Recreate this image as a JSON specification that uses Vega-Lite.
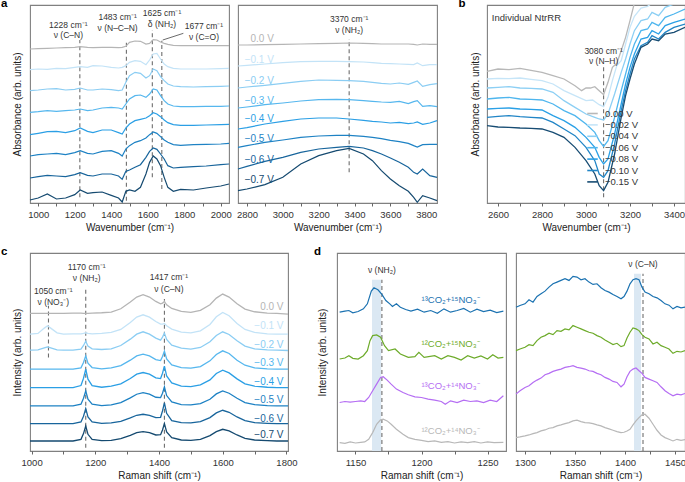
{
"$schema": "https://vega.github.io/schema/vega-lite/v6.json",
"padding": {"top": -3, "left": 0, "right": 0, "bottom": 0},
"background": "white",
"config": {
  "font": "Liberation Sans",
  "view": {"stroke": "#808080", "strokeWidth": 1.1},
  "axis": {"grid": false, "domain": false, "tickColor": "#555", "tickSize": 3, "tickWidth": 0.9, "labelFontSize": 9.5, "labelColor": "#333", "labelPadding": 3, "titleFontSize": 10, "titleFontWeight": "normal", "titleColor": "#222", "titlePadding": 4, "labelFont": "Liberation Sans", "titleFont": "Liberation Sans", "minExtent": 0, "labelOverlap": false, "labelFlush": false},
  "title": {"fontSize": 11.5, "fontWeight": "bold", "anchor": "start", "frame": "group", "offset": 0, "baseline": "alphabetic", "color": "#000", "font": "Liberation Sans"},
  "text": {"font": "Liberation Sans"}
},
"datasets": {
"aL": [
{"s":"0.0 V","x":955,"y":462},{"s":"0.0 V","x":1000,"y":463},{"s":"0.0 V","x":1050,"y":464},{"s":"0.0 V","x":1100,"y":465},{"s":"0.0 V","x":1150,"y":466},{"s":"0.0 V","x":1200,"y":467},{"s":"0.0 V","x":1230,"y":469},{"s":"0.0 V","x":1270,"y":467},{"s":"0.0 V","x":1300,"y":466},{"s":"0.0 V","x":1350,"y":467},{"s":"0.0 V","x":1400,"y":467},{"s":"0.0 V","x":1440,"y":466},{"s":"0.0 V","x":1460,"y":467},{"s":"0.0 V","x":1480,"y":470},{"s":"0.0 V","x":1500,"y":482},{"s":"0.0 V","x":1530,"y":486},{"s":"0.0 V","x":1560,"y":485},{"s":"0.0 V","x":1590,"y":477},{"s":"0.0 V","x":1610,"y":479},{"s":"0.0 V","x":1630,"y":490},{"s":"0.0 V","x":1650,"y":489},{"s":"0.0 V","x":1670,"y":483},{"s":"0.0 V","x":1690,"y":479},{"s":"0.0 V","x":1710,"y":476},{"s":"0.0 V","x":1740,"y":473},{"s":"0.0 V","x":1780,"y":472},{"s":"0.0 V","x":1850,"y":472},{"s":"0.0 V","x":1920,"y":472},{"s":"0.0 V","x":2000,"y":472},{"s":"0.0 V","x":2045,"y":472},
{"s":"−0.1 V","x":955,"y":400},{"s":"−0.1 V","x":1000,"y":402},{"s":"−0.1 V","x":1050,"y":401},{"s":"−0.1 V","x":1100,"y":404},{"s":"−0.1 V","x":1150,"y":403},{"s":"−0.1 V","x":1200,"y":407},{"s":"−0.1 V","x":1230,"y":409},{"s":"−0.1 V","x":1270,"y":407},{"s":"−0.1 V","x":1300,"y":412},{"s":"−0.1 V","x":1350,"y":411},{"s":"−0.1 V","x":1400,"y":407},{"s":"−0.1 V","x":1440,"y":405},{"s":"−0.1 V","x":1460,"y":407},{"s":"−0.1 V","x":1480,"y":412},{"s":"−0.1 V","x":1500,"y":422},{"s":"−0.1 V","x":1530,"y":427},{"s":"−0.1 V","x":1560,"y":425},{"s":"−0.1 V","x":1590,"y":415},{"s":"−0.1 V","x":1610,"y":429},{"s":"−0.1 V","x":1630,"y":447},{"s":"−0.1 V","x":1650,"y":449},{"s":"−0.1 V","x":1670,"y":432},{"s":"−0.1 V","x":1690,"y":417},{"s":"−0.1 V","x":1710,"y":409},{"s":"−0.1 V","x":1740,"y":404},{"s":"−0.1 V","x":1780,"y":402},{"s":"−0.1 V","x":1850,"y":402},{"s":"−0.1 V","x":1920,"y":402},{"s":"−0.1 V","x":2000,"y":403},{"s":"−0.1 V","x":2045,"y":404},
{"s":"−0.2 V","x":955,"y":337},{"s":"−0.2 V","x":1000,"y":339},{"s":"−0.2 V","x":1050,"y":342},{"s":"−0.2 V","x":1100,"y":343},{"s":"−0.2 V","x":1150,"y":339},{"s":"−0.2 V","x":1200,"y":341},{"s":"−0.2 V","x":1230,"y":345},{"s":"−0.2 V","x":1270,"y":339},{"s":"−0.2 V","x":1300,"y":339},{"s":"−0.2 V","x":1350,"y":342},{"s":"−0.2 V","x":1400,"y":340},{"s":"−0.2 V","x":1440,"y":337},{"s":"−0.2 V","x":1460,"y":339},{"s":"−0.2 V","x":1480,"y":362},{"s":"−0.2 V","x":1500,"y":382},{"s":"−0.2 V","x":1530,"y":392},{"s":"−0.2 V","x":1560,"y":389},{"s":"−0.2 V","x":1590,"y":375},{"s":"−0.2 V","x":1610,"y":382},{"s":"−0.2 V","x":1630,"y":402},{"s":"−0.2 V","x":1650,"y":397},{"s":"−0.2 V","x":1670,"y":379},{"s":"−0.2 V","x":1690,"y":367},{"s":"−0.2 V","x":1710,"y":357},{"s":"−0.2 V","x":1740,"y":351},{"s":"−0.2 V","x":1780,"y":349},{"s":"−0.2 V","x":1850,"y":348},{"s":"−0.2 V","x":1920,"y":349},{"s":"−0.2 V","x":2000,"y":350},{"s":"−0.2 V","x":2045,"y":351},
{"s":"−0.3 V","x":955,"y":272},{"s":"−0.3 V","x":1000,"y":274},{"s":"−0.3 V","x":1050,"y":277},{"s":"−0.3 V","x":1100,"y":275},{"s":"−0.3 V","x":1150,"y":277},{"s":"−0.3 V","x":1200,"y":279},{"s":"−0.3 V","x":1230,"y":282},{"s":"−0.3 V","x":1270,"y":277},{"s":"−0.3 V","x":1300,"y":279},{"s":"−0.3 V","x":1350,"y":285},{"s":"−0.3 V","x":1400,"y":287},{"s":"−0.3 V","x":1440,"y":285},{"s":"−0.3 V","x":1460,"y":282},{"s":"−0.3 V","x":1480,"y":297},{"s":"−0.3 V","x":1500,"y":312},{"s":"−0.3 V","x":1530,"y":322},{"s":"−0.3 V","x":1560,"y":324},{"s":"−0.3 V","x":1590,"y":317},{"s":"−0.3 V","x":1610,"y":327},{"s":"−0.3 V","x":1630,"y":342},{"s":"−0.3 V","x":1650,"y":339},{"s":"−0.3 V","x":1670,"y":322},{"s":"−0.3 V","x":1690,"y":307},{"s":"−0.3 V","x":1710,"y":297},{"s":"−0.3 V","x":1740,"y":291},{"s":"−0.3 V","x":1780,"y":289},{"s":"−0.3 V","x":1850,"y":289},{"s":"−0.3 V","x":1920,"y":290},{"s":"−0.3 V","x":2000,"y":290},{"s":"−0.3 V","x":2045,"y":291},
{"s":"−0.4 V","x":955,"y":205},{"s":"−0.4 V","x":1000,"y":209},{"s":"−0.4 V","x":1050,"y":214},{"s":"−0.4 V","x":1100,"y":215},{"s":"−0.4 V","x":1150,"y":211},{"s":"−0.4 V","x":1200,"y":217},{"s":"−0.4 V","x":1230,"y":225},{"s":"−0.4 V","x":1270,"y":215},{"s":"−0.4 V","x":1300,"y":211},{"s":"−0.4 V","x":1350,"y":219},{"s":"−0.4 V","x":1400,"y":219},{"s":"−0.4 V","x":1440,"y":211},{"s":"−0.4 V","x":1460,"y":207},{"s":"−0.4 V","x":1480,"y":225},{"s":"−0.4 V","x":1500,"y":237},{"s":"−0.4 V","x":1530,"y":247},{"s":"−0.4 V","x":1560,"y":251},{"s":"−0.4 V","x":1590,"y":255},{"s":"−0.4 V","x":1610,"y":262},{"s":"−0.4 V","x":1630,"y":271},{"s":"−0.4 V","x":1650,"y":267},{"s":"−0.4 V","x":1670,"y":259},{"s":"−0.4 V","x":1690,"y":249},{"s":"−0.4 V","x":1710,"y":241},{"s":"−0.4 V","x":1740,"y":235},{"s":"−0.4 V","x":1780,"y":233},{"s":"−0.4 V","x":1850,"y":233},{"s":"−0.4 V","x":1920,"y":234},{"s":"−0.4 V","x":2000,"y":235},{"s":"−0.4 V","x":2045,"y":236},
{"s":"−0.5 V","x":955,"y":141},{"s":"−0.5 V","x":1000,"y":145},{"s":"−0.5 V","x":1050,"y":147},{"s":"−0.5 V","x":1100,"y":149},{"s":"−0.5 V","x":1150,"y":145},{"s":"−0.5 V","x":1200,"y":151},{"s":"−0.5 V","x":1230,"y":157},{"s":"−0.5 V","x":1270,"y":149},{"s":"−0.5 V","x":1300,"y":147},{"s":"−0.5 V","x":1350,"y":155},{"s":"−0.5 V","x":1400,"y":157},{"s":"−0.5 V","x":1440,"y":149},{"s":"−0.5 V","x":1460,"y":141},{"s":"−0.5 V","x":1480,"y":162},{"s":"−0.5 V","x":1500,"y":172},{"s":"−0.5 V","x":1530,"y":182},{"s":"−0.5 V","x":1560,"y":187},{"s":"−0.5 V","x":1590,"y":195},{"s":"−0.5 V","x":1610,"y":205},{"s":"−0.5 V","x":1630,"y":213},{"s":"−0.5 V","x":1650,"y":209},{"s":"−0.5 V","x":1670,"y":199},{"s":"−0.5 V","x":1690,"y":189},{"s":"−0.5 V","x":1710,"y":182},{"s":"−0.5 V","x":1740,"y":175},{"s":"−0.5 V","x":1780,"y":173},{"s":"−0.5 V","x":1850,"y":175},{"s":"−0.5 V","x":1920,"y":176},{"s":"−0.5 V","x":2000,"y":177},{"s":"−0.5 V","x":2045,"y":179},
{"s":"−0.6 V","x":955,"y":75},{"s":"−0.6 V","x":1000,"y":79},{"s":"−0.6 V","x":1050,"y":83},{"s":"−0.6 V","x":1100,"y":81},{"s":"−0.6 V","x":1150,"y":79},{"s":"−0.6 V","x":1200,"y":85},{"s":"−0.6 V","x":1230,"y":91},{"s":"−0.6 V","x":1270,"y":83},{"s":"−0.6 V","x":1300,"y":81},{"s":"−0.6 V","x":1350,"y":87},{"s":"−0.6 V","x":1400,"y":87},{"s":"−0.6 V","x":1440,"y":81},{"s":"−0.6 V","x":1460,"y":71},{"s":"−0.6 V","x":1480,"y":95},{"s":"−0.6 V","x":1500,"y":99},{"s":"−0.6 V","x":1530,"y":107},{"s":"−0.6 V","x":1560,"y":115},{"s":"−0.6 V","x":1590,"y":137},{"s":"−0.6 V","x":1610,"y":155},{"s":"−0.6 V","x":1630,"y":165},{"s":"−0.6 V","x":1650,"y":161},{"s":"−0.6 V","x":1670,"y":147},{"s":"−0.6 V","x":1690,"y":132},{"s":"−0.6 V","x":1710,"y":112},{"s":"−0.6 V","x":1740,"y":105},{"s":"−0.6 V","x":1780,"y":107},{"s":"−0.6 V","x":1850,"y":109},{"s":"−0.6 V","x":1920,"y":111},{"s":"−0.6 V","x":2000,"y":115},{"s":"−0.6 V","x":2045,"y":117},
{"s":"−0.7 V","x":955,"y":9},{"s":"−0.7 V","x":1000,"y":15},{"s":"−0.7 V","x":1050,"y":27},{"s":"−0.7 V","x":1100,"y":12},{"s":"−0.7 V","x":1150,"y":15},{"s":"−0.7 V","x":1200,"y":25},{"s":"−0.7 V","x":1230,"y":39},{"s":"−0.7 V","x":1270,"y":29},{"s":"−0.7 V","x":1300,"y":31},{"s":"−0.7 V","x":1350,"y":33},{"s":"−0.7 V","x":1400,"y":23},{"s":"−0.7 V","x":1440,"y":15},{"s":"−0.7 V","x":1460,"y":3},{"s":"−0.7 V","x":1480,"y":35},{"s":"−0.7 V","x":1500,"y":39},{"s":"−0.7 V","x":1530,"y":35},{"s":"−0.7 V","x":1560,"y":47},{"s":"−0.7 V","x":1590,"y":87},{"s":"−0.7 V","x":1610,"y":122},{"s":"−0.7 V","x":1630,"y":141},{"s":"−0.7 V","x":1650,"y":132},{"s":"−0.7 V","x":1670,"y":112},{"s":"−0.7 V","x":1690,"y":77},{"s":"−0.7 V","x":1710,"y":47},{"s":"−0.7 V","x":1740,"y":35},{"s":"−0.7 V","x":1780,"y":41},{"s":"−0.7 V","x":1850,"y":39},{"s":"−0.7 V","x":1920,"y":45},{"s":"−0.7 V","x":2000,"y":51},{"s":"−0.7 V","x":2045,"y":57}
],
"aLt": [
{"x":1165,"y":535,"t":"1228 cm⁻¹"},{"x":1165,"y":504,"t":"ν (C–N)"},
{"x":1435,"y":557,"t":"1483 cm⁻¹"},{"x":1435,"y":525,"t":"ν (N–C–N)"},
{"x":1678,"y":571,"t":"1625 cm⁻¹"},{"x":1678,"y":537,"t":"δ (NH₂)"},
{"x":1908,"y":532,"t":"1677 cm⁻¹"},{"x":1908,"y":499,"t":"ν (C=O)"}
],
"aLr": [
{"x":1228,"y":17,"y2":489},{"x":1483,"y":7,"y2":485},{"x":1625,"y":77,"y2":519},{"x":1677,"y":42,"y2":487}
],
"aLlead": [{"x":1682,"y":489},{"x":1795,"y":509}],
"aR": [
{"s":"0.0 V","x":2750,"y":474},{"s":"0.0 V","x":2800,"y":474},{"s":"0.0 V","x":2900,"y":475},{"s":"0.0 V","x":3000,"y":476},{"s":"0.0 V","x":3100,"y":477},{"s":"0.0 V","x":3200,"y":478},{"s":"0.0 V","x":3300,"y":479},{"s":"0.0 V","x":3370,"y":480},{"s":"0.0 V","x":3450,"y":479},{"s":"0.0 V","x":3500,"y":478},{"s":"0.0 V","x":3550,"y":477},{"s":"0.0 V","x":3600,"y":477},{"s":"0.0 V","x":3650,"y":477},{"s":"0.0 V","x":3700,"y":477},{"s":"0.0 V","x":3730,"y":476},{"s":"0.0 V","x":3750,"y":474},{"s":"0.0 V","x":3780,"y":477},{"s":"0.0 V","x":3820,"y":476},{"s":"0.0 V","x":3860,"y":476},
{"s":"−0.1 V","x":2750,"y":411},{"s":"−0.1 V","x":2800,"y":413},{"s":"−0.1 V","x":2900,"y":417},{"s":"−0.1 V","x":3000,"y":421},{"s":"−0.1 V","x":3100,"y":424},{"s":"−0.1 V","x":3200,"y":425},{"s":"−0.1 V","x":3300,"y":425},{"s":"−0.1 V","x":3370,"y":424},{"s":"−0.1 V","x":3450,"y":423},{"s":"−0.1 V","x":3500,"y":421},{"s":"−0.1 V","x":3550,"y":419},{"s":"−0.1 V","x":3600,"y":418},{"s":"−0.1 V","x":3650,"y":417},{"s":"−0.1 V","x":3700,"y":416},{"s":"−0.1 V","x":3730,"y":415},{"s":"−0.1 V","x":3750,"y":420},{"s":"−0.1 V","x":3780,"y":412},{"s":"−0.1 V","x":3820,"y":415},{"s":"−0.1 V","x":3860,"y":415},
{"s":"−0.2 V","x":2750,"y":345},{"s":"−0.2 V","x":2800,"y":348},{"s":"−0.2 V","x":2900,"y":353},{"s":"−0.2 V","x":3000,"y":359},{"s":"−0.2 V","x":3100,"y":365},{"s":"−0.2 V","x":3200,"y":369},{"s":"−0.2 V","x":3300,"y":368},{"s":"−0.2 V","x":3370,"y":367},{"s":"−0.2 V","x":3450,"y":365},{"s":"−0.2 V","x":3500,"y":362},{"s":"−0.2 V","x":3550,"y":359},{"s":"−0.2 V","x":3600,"y":357},{"s":"−0.2 V","x":3650,"y":360},{"s":"−0.2 V","x":3700,"y":356},{"s":"−0.2 V","x":3730,"y":362},{"s":"−0.2 V","x":3750,"y":366},{"s":"−0.2 V","x":3780,"y":350},{"s":"−0.2 V","x":3820,"y":355},{"s":"−0.2 V","x":3860,"y":358},
{"s":"−0.3 V","x":2750,"y":285},{"s":"−0.3 V","x":2800,"y":288},{"s":"−0.3 V","x":2900,"y":295},{"s":"−0.3 V","x":3000,"y":300},{"s":"−0.3 V","x":3100,"y":306},{"s":"−0.3 V","x":3200,"y":310},{"s":"−0.3 V","x":3300,"y":311},{"s":"−0.3 V","x":3370,"y":310},{"s":"−0.3 V","x":3450,"y":307},{"s":"−0.3 V","x":3500,"y":305},{"s":"−0.3 V","x":3550,"y":303},{"s":"−0.3 V","x":3600,"y":302},{"s":"−0.3 V","x":3650,"y":305},{"s":"−0.3 V","x":3700,"y":298},{"s":"−0.3 V","x":3730,"y":304},{"s":"−0.3 V","x":3750,"y":307},{"s":"−0.3 V","x":3780,"y":290},{"s":"−0.3 V","x":3820,"y":292},{"s":"−0.3 V","x":3860,"y":289},
{"s":"−0.4 V","x":2750,"y":222},{"s":"−0.4 V","x":2800,"y":226},{"s":"−0.4 V","x":2900,"y":237},{"s":"−0.4 V","x":3000,"y":245},{"s":"−0.4 V","x":3100,"y":252},{"s":"−0.4 V","x":3200,"y":255},{"s":"−0.4 V","x":3300,"y":255},{"s":"−0.4 V","x":3370,"y":252},{"s":"−0.4 V","x":3450,"y":248},{"s":"−0.4 V","x":3500,"y":245},{"s":"−0.4 V","x":3550,"y":243},{"s":"−0.4 V","x":3600,"y":240},{"s":"−0.4 V","x":3650,"y":242},{"s":"−0.4 V","x":3700,"y":238},{"s":"−0.4 V","x":3730,"y":240},{"s":"−0.4 V","x":3750,"y":243},{"s":"−0.4 V","x":3780,"y":236},{"s":"−0.4 V","x":3820,"y":240},{"s":"−0.4 V","x":3860,"y":247},
{"s":"−0.5 V","x":2750,"y":167},{"s":"−0.5 V","x":2800,"y":172},{"s":"−0.5 V","x":2900,"y":182},{"s":"−0.5 V","x":3000,"y":189},{"s":"−0.5 V","x":3100,"y":197},{"s":"−0.5 V","x":3200,"y":201},{"s":"−0.5 V","x":3300,"y":203},{"s":"−0.5 V","x":3370,"y":203},{"s":"−0.5 V","x":3450,"y":200},{"s":"−0.5 V","x":3500,"y":197},{"s":"−0.5 V","x":3550,"y":193},{"s":"−0.5 V","x":3600,"y":188},{"s":"−0.5 V","x":3650,"y":184},{"s":"−0.5 V","x":3700,"y":179},{"s":"−0.5 V","x":3730,"y":172},{"s":"−0.5 V","x":3750,"y":168},{"s":"−0.5 V","x":3780,"y":175},{"s":"−0.5 V","x":3820,"y":176},{"s":"−0.5 V","x":3860,"y":176},
{"s":"−0.6 V","x":2750,"y":102},{"s":"−0.6 V","x":2800,"y":110},{"s":"−0.6 V","x":2900,"y":125},{"s":"−0.6 V","x":3000,"y":137},{"s":"−0.6 V","x":3100,"y":152},{"s":"−0.6 V","x":3200,"y":162},{"s":"−0.6 V","x":3300,"y":167},{"s":"−0.6 V","x":3370,"y":170},{"s":"−0.6 V","x":3450,"y":165},{"s":"−0.6 V","x":3500,"y":157},{"s":"−0.6 V","x":3550,"y":147},{"s":"−0.6 V","x":3600,"y":135},{"s":"−0.6 V","x":3650,"y":122},{"s":"−0.6 V","x":3700,"y":107},{"s":"−0.6 V","x":3730,"y":92},{"s":"−0.6 V","x":3750,"y":87},{"s":"−0.6 V","x":3780,"y":102},{"s":"−0.6 V","x":3820,"y":82},{"s":"−0.6 V","x":3860,"y":77},
{"s":"−0.7 V","x":2750,"y":37},{"s":"−0.7 V","x":2800,"y":42},{"s":"−0.7 V","x":2900,"y":55},{"s":"−0.7 V","x":3000,"y":77},{"s":"−0.7 V","x":3100,"y":117},{"s":"−0.7 V","x":3200,"y":142},{"s":"−0.7 V","x":3300,"y":157},{"s":"−0.7 V","x":3370,"y":164},{"s":"−0.7 V","x":3450,"y":147},{"s":"−0.7 V","x":3500,"y":127},{"s":"−0.7 V","x":3550,"y":97},{"s":"−0.7 V","x":3600,"y":72},{"s":"−0.7 V","x":3650,"y":52},{"s":"−0.7 V","x":3700,"y":35},{"s":"−0.7 V","x":3730,"y":17},{"s":"−0.7 V","x":3750,"y":2},{"s":"−0.7 V","x":3780,"y":22},{"s":"−0.7 V","x":3820,"y":15},{"s":"−0.7 V","x":3860,"y":7}
],
"aRl": [
{"s":"0.0 V","x":2950,"y":492},{"s":"−0.1 V","x":2950,"y":429},{"s":"−0.2 V","x":2950,"y":367},{"s":"−0.3 V","x":2950,"y":307},{"s":"−0.4 V","x":2950,"y":252},{"s":"−0.5 V","x":2950,"y":192},{"s":"−0.6 V","x":2950,"y":129},{"s":"−0.7 V","x":2950,"y":70}
],
"aRt": [{"x":3370,"y":552,"t":"3370 cm⁻¹"},{"x":3370,"y":519,"t":"ν (NH₂)"}],
"aRr": [{"x":3370,"y":92,"y2":492}],
"b": [
{"s":"0.00 V","x":2550,"y":395},{"s":"0.00 V","x":2600,"y":402},{"s":"0.00 V","x":2650,"y":400},{"s":"0.00 V","x":2700,"y":404},{"s":"0.00 V","x":2750,"y":398},{"s":"0.00 V","x":2800,"y":392},{"s":"0.00 V","x":2850,"y":382},{"s":"0.00 V","x":2900,"y":372},{"s":"0.00 V","x":2950,"y":352},{"s":"0.00 V","x":2980,"y":337},{"s":"0.00 V","x":3000,"y":345},{"s":"0.00 V","x":3020,"y":345},{"s":"0.00 V","x":3040,"y":349},{"s":"0.00 V","x":3060,"y":337},{"s":"0.00 V","x":3080,"y":325},{"s":"0.00 V","x":3100,"y":362},{"s":"0.00 V","x":3120,"y":407},{"s":"0.00 V","x":3140,"y":419},{"s":"0.00 V","x":3160,"y":457},{"s":"0.00 V","x":3180,"y":497},{"s":"0.00 V","x":3200,"y":547},{"s":"0.00 V","x":3220,"y":600},{"s":"0.00 V","x":3250,"y":640},
{"s":"−0.02 V","x":2550,"y":372},{"s":"−0.02 V","x":2600,"y":374},{"s":"−0.02 V","x":2650,"y":373},{"s":"−0.02 V","x":2700,"y":375},{"s":"−0.02 V","x":2750,"y":371},{"s":"−0.02 V","x":2800,"y":367},{"s":"−0.02 V","x":2850,"y":357},{"s":"−0.02 V","x":2900,"y":337},{"s":"−0.02 V","x":2950,"y":322},{"s":"−0.02 V","x":3000,"y":307},{"s":"−0.02 V","x":3030,"y":309},{"s":"−0.02 V","x":3060,"y":295},{"s":"−0.02 V","x":3080,"y":289},{"s":"−0.02 V","x":3100,"y":317},{"s":"−0.02 V","x":3120,"y":367},{"s":"−0.02 V","x":3140,"y":412},{"s":"−0.02 V","x":3160,"y":427},{"s":"−0.02 V","x":3180,"y":477},{"s":"−0.02 V","x":3200,"y":527},{"s":"−0.02 V","x":3220,"y":560},{"s":"−0.02 V","x":3250,"y":585},{"s":"−0.02 V","x":3280,"y":590},{"s":"−0.02 V","x":3300,"y":600},{"s":"−0.02 V","x":3330,"y":612},
{"s":"−0.04 V","x":2550,"y":345},{"s":"−0.04 V","x":2600,"y":347},{"s":"−0.04 V","x":2650,"y":349},{"s":"−0.04 V","x":2700,"y":345},{"s":"−0.04 V","x":2750,"y":344},{"s":"−0.04 V","x":2800,"y":342},{"s":"−0.04 V","x":2850,"y":332},{"s":"−0.04 V","x":2900,"y":307},{"s":"−0.04 V","x":2950,"y":287},{"s":"−0.04 V","x":3000,"y":267},{"s":"−0.04 V","x":3040,"y":257},{"s":"−0.04 V","x":3060,"y":252},{"s":"−0.04 V","x":3080,"y":249},{"s":"−0.04 V","x":3100,"y":267},{"s":"−0.04 V","x":3130,"y":327},{"s":"−0.04 V","x":3160,"y":392},{"s":"−0.04 V","x":3180,"y":432},{"s":"−0.04 V","x":3200,"y":477},{"s":"−0.04 V","x":3220,"y":517},{"s":"−0.04 V","x":3250,"y":547},{"s":"−0.04 V","x":3280,"y":552},{"s":"−0.04 V","x":3300,"y":572},{"s":"−0.04 V","x":3330,"y":562},{"s":"−0.04 V","x":3360,"y":587},{"s":"−0.04 V","x":3400,"y":597},{"s":"−0.04 V","x":3450,"y":607},
{"s":"−0.06 V","x":2550,"y":312},{"s":"−0.06 V","x":2600,"y":315},{"s":"−0.06 V","x":2650,"y":317},{"s":"−0.06 V","x":2700,"y":312},{"s":"−0.06 V","x":2750,"y":311},{"s":"−0.06 V","x":2800,"y":309},{"s":"−0.06 V","x":2850,"y":297},{"s":"−0.06 V","x":2900,"y":277},{"s":"−0.06 V","x":2950,"y":262},{"s":"−0.06 V","x":3000,"y":237},{"s":"−0.06 V","x":3040,"y":212},{"s":"−0.06 V","x":3060,"y":187},{"s":"−0.06 V","x":3080,"y":170},{"s":"−0.06 V","x":3100,"y":187},{"s":"−0.06 V","x":3130,"y":257},{"s":"−0.06 V","x":3160,"y":337},{"s":"−0.06 V","x":3180,"y":387},{"s":"−0.06 V","x":3200,"y":437},{"s":"−0.06 V","x":3220,"y":477},{"s":"−0.06 V","x":3250,"y":517},{"s":"−0.06 V","x":3280,"y":522},{"s":"−0.06 V","x":3300,"y":542},{"s":"−0.06 V","x":3330,"y":532},{"s":"−0.06 V","x":3360,"y":557},{"s":"−0.06 V","x":3400,"y":567},{"s":"−0.06 V","x":3450,"y":582},
{"s":"−0.08 V","x":2550,"y":282},{"s":"−0.08 V","x":2600,"y":284},{"s":"−0.08 V","x":2650,"y":285},{"s":"−0.08 V","x":2700,"y":282},{"s":"−0.08 V","x":2750,"y":281},{"s":"−0.08 V","x":2800,"y":279},{"s":"−0.08 V","x":2850,"y":262},{"s":"−0.08 V","x":2900,"y":247},{"s":"−0.08 V","x":2950,"y":227},{"s":"−0.08 V","x":3000,"y":197},{"s":"−0.08 V","x":3040,"y":167},{"s":"−0.08 V","x":3060,"y":137},{"s":"−0.08 V","x":3080,"y":117},{"s":"−0.08 V","x":3100,"y":132},{"s":"−0.08 V","x":3130,"y":207},{"s":"−0.08 V","x":3160,"y":297},{"s":"−0.08 V","x":3180,"y":357},{"s":"−0.08 V","x":3200,"y":407},{"s":"−0.08 V","x":3220,"y":447},{"s":"−0.08 V","x":3250,"y":492},{"s":"−0.08 V","x":3280,"y":497},{"s":"−0.08 V","x":3300,"y":517},{"s":"−0.08 V","x":3330,"y":507},{"s":"−0.08 V","x":3360,"y":532},{"s":"−0.08 V","x":3400,"y":542},{"s":"−0.08 V","x":3450,"y":552},
{"s":"−0.10 V","x":2550,"y":257},{"s":"−0.10 V","x":2600,"y":260},{"s":"−0.10 V","x":2650,"y":262},{"s":"−0.10 V","x":2700,"y":259},{"s":"−0.10 V","x":2750,"y":257},{"s":"−0.10 V","x":2800,"y":255},{"s":"−0.10 V","x":2850,"y":242},{"s":"−0.10 V","x":2900,"y":222},{"s":"−0.10 V","x":2950,"y":202},{"s":"−0.10 V","x":3000,"y":167},{"s":"−0.10 V","x":3040,"y":127},{"s":"−0.10 V","x":3060,"y":87},{"s":"−0.10 V","x":3080,"y":77},{"s":"−0.10 V","x":3100,"y":97},{"s":"−0.10 V","x":3130,"y":177},{"s":"−0.10 V","x":3160,"y":277},{"s":"−0.10 V","x":3180,"y":337},{"s":"−0.10 V","x":3200,"y":387},{"s":"−0.10 V","x":3220,"y":432},{"s":"−0.10 V","x":3250,"y":472},{"s":"−0.10 V","x":3280,"y":482},{"s":"−0.10 V","x":3300,"y":502},{"s":"−0.10 V","x":3330,"y":492},{"s":"−0.10 V","x":3360,"y":512},{"s":"−0.10 V","x":3400,"y":527},{"s":"−0.10 V","x":3450,"y":537},
{"s":"−0.15 V","x":2550,"y":232},{"s":"−0.15 V","x":2600,"y":228},{"s":"−0.15 V","x":2650,"y":227},{"s":"−0.15 V","x":2700,"y":225},{"s":"−0.15 V","x":2750,"y":224},{"s":"−0.15 V","x":2800,"y":222},{"s":"−0.15 V","x":2850,"y":212},{"s":"−0.15 V","x":2900,"y":197},{"s":"−0.15 V","x":2950,"y":167},{"s":"−0.15 V","x":3000,"y":127},{"s":"−0.15 V","x":3040,"y":87},{"s":"−0.15 V","x":3060,"y":52},{"s":"−0.15 V","x":3080,"y":37},{"s":"−0.15 V","x":3100,"y":62},{"s":"−0.15 V","x":3130,"y":147},{"s":"−0.15 V","x":3160,"y":257},{"s":"−0.15 V","x":3180,"y":322},{"s":"−0.15 V","x":3200,"y":372},{"s":"−0.15 V","x":3220,"y":417},{"s":"−0.15 V","x":3250,"y":467},{"s":"−0.15 V","x":3280,"y":477},{"s":"−0.15 V","x":3300,"y":492},{"s":"−0.15 V","x":3330,"y":487},{"s":"−0.15 V","x":3360,"y":507},{"s":"−0.15 V","x":3400,"y":512},{"s":"−0.15 V","x":3450,"y":527}
],
"bt": [{"x":3080,"y":457,"t":"3080 cm⁻¹"},{"x":3080,"y":425,"t":"ν (N–H)"}],
"bname": [{"x":2572,"y":556,"t":"Individual NtrRR"}],
"br": [{"x":3080,"y":17,"y2":407}],
"c": [
{"s":"0.0 V","x":995,"y":412},{"s":"0.0 V","x":1020,"y":412},{"s":"0.0 V","x":1040,"y":412},{"s":"0.0 V","x":1050,"y":412},{"s":"0.0 V","x":1060,"y":412},{"s":"0.0 V","x":1080,"y":412},{"s":"0.0 V","x":1100,"y":412},{"s":"0.0 V","x":1130,"y":413},{"s":"0.0 V","x":1155,"y":413},{"s":"0.0 V","x":1163,"y":412},{"s":"0.0 V","x":1170,"y":412},{"s":"0.0 V","x":1177,"y":412},{"s":"0.0 V","x":1190,"y":413},{"s":"0.0 V","x":1220,"y":414},{"s":"0.0 V","x":1250,"y":416},{"s":"0.0 V","x":1280,"y":426},{"s":"0.0 V","x":1310,"y":446},{"s":"0.0 V","x":1330,"y":461},{"s":"0.0 V","x":1350,"y":468},{"s":"0.0 V","x":1370,"y":461},{"s":"0.0 V","x":1390,"y":448},{"s":"0.0 V","x":1405,"y":441},{"s":"0.0 V","x":1411,"y":443},{"s":"0.0 V","x":1417,"y":448},{"s":"0.0 V","x":1424,"y":438},{"s":"0.0 V","x":1440,"y":427},{"s":"0.0 V","x":1470,"y":418},{"s":"0.0 V","x":1500,"y":415},{"s":"0.0 V","x":1530,"y":421},{"s":"0.0 V","x":1560,"y":438},{"s":"0.0 V","x":1580,"y":458},{"s":"0.0 V","x":1600,"y":470},{"s":"0.0 V","x":1620,"y":461},{"s":"0.0 V","x":1645,"y":441},{"s":"0.0 V","x":1670,"y":425},{"s":"0.0 V","x":1700,"y":417},{"s":"0.0 V","x":1740,"y":413},{"s":"0.0 V","x":1770,"y":412},{"s":"0.0 V","x":1805,"y":410},
{"s":"−0.1 V","x":995,"y":350},{"s":"−0.1 V","x":1020,"y":352},{"s":"−0.1 V","x":1040,"y":368},{"s":"−0.1 V","x":1050,"y":375},{"s":"−0.1 V","x":1060,"y":368},{"s":"−0.1 V","x":1080,"y":354},{"s":"−0.1 V","x":1100,"y":350},{"s":"−0.1 V","x":1130,"y":351},{"s":"−0.1 V","x":1155,"y":351},{"s":"−0.1 V","x":1163,"y":352},{"s":"−0.1 V","x":1170,"y":354},{"s":"−0.1 V","x":1177,"y":352},{"s":"−0.1 V","x":1190,"y":351},{"s":"−0.1 V","x":1220,"y":352},{"s":"−0.1 V","x":1250,"y":355},{"s":"−0.1 V","x":1280,"y":364},{"s":"−0.1 V","x":1310,"y":385},{"s":"−0.1 V","x":1330,"y":401},{"s":"−0.1 V","x":1350,"y":408},{"s":"−0.1 V","x":1370,"y":401},{"s":"−0.1 V","x":1390,"y":388},{"s":"−0.1 V","x":1405,"y":380},{"s":"−0.1 V","x":1411,"y":380},{"s":"−0.1 V","x":1417,"y":382},{"s":"−0.1 V","x":1424,"y":375},{"s":"−0.1 V","x":1440,"y":365},{"s":"−0.1 V","x":1470,"y":356},{"s":"−0.1 V","x":1500,"y":354},{"s":"−0.1 V","x":1530,"y":360},{"s":"−0.1 V","x":1560,"y":379},{"s":"−0.1 V","x":1580,"y":402},{"s":"−0.1 V","x":1600,"y":415},{"s":"−0.1 V","x":1620,"y":405},{"s":"−0.1 V","x":1645,"y":382},{"s":"−0.1 V","x":1670,"y":364},{"s":"−0.1 V","x":1700,"y":355},{"s":"−0.1 V","x":1740,"y":351},{"s":"−0.1 V","x":1770,"y":350},{"s":"−0.1 V","x":1805,"y":350},
{"s":"−0.2 V","x":995,"y":302},{"s":"−0.2 V","x":1020,"y":303},{"s":"−0.2 V","x":1040,"y":309},{"s":"−0.2 V","x":1050,"y":312},{"s":"−0.2 V","x":1060,"y":309},{"s":"−0.2 V","x":1080,"y":303},{"s":"−0.2 V","x":1100,"y":302},{"s":"−0.2 V","x":1130,"y":302},{"s":"−0.2 V","x":1155,"y":305},{"s":"−0.2 V","x":1163,"y":316},{"s":"−0.2 V","x":1170,"y":329},{"s":"−0.2 V","x":1177,"y":314},{"s":"−0.2 V","x":1190,"y":306},{"s":"−0.2 V","x":1220,"y":304},{"s":"−0.2 V","x":1250,"y":306},{"s":"−0.2 V","x":1280,"y":316},{"s":"−0.2 V","x":1310,"y":335},{"s":"−0.2 V","x":1330,"y":350},{"s":"−0.2 V","x":1350,"y":357},{"s":"−0.2 V","x":1370,"y":350},{"s":"−0.2 V","x":1390,"y":338},{"s":"−0.2 V","x":1405,"y":332},{"s":"−0.2 V","x":1411,"y":341},{"s":"−0.2 V","x":1417,"y":353},{"s":"−0.2 V","x":1424,"y":334},{"s":"−0.2 V","x":1440,"y":317},{"s":"−0.2 V","x":1470,"y":308},{"s":"−0.2 V","x":1500,"y":305},{"s":"−0.2 V","x":1530,"y":310},{"s":"−0.2 V","x":1560,"y":327},{"s":"−0.2 V","x":1580,"y":346},{"s":"−0.2 V","x":1600,"y":357},{"s":"−0.2 V","x":1620,"y":349},{"s":"−0.2 V","x":1645,"y":330},{"s":"−0.2 V","x":1670,"y":314},{"s":"−0.2 V","x":1700,"y":306},{"s":"−0.2 V","x":1740,"y":303},{"s":"−0.2 V","x":1770,"y":302},{"s":"−0.2 V","x":1805,"y":301},
{"s":"−0.3 V","x":995,"y":245},{"s":"−0.3 V","x":1020,"y":245},{"s":"−0.3 V","x":1040,"y":245},{"s":"−0.3 V","x":1050,"y":245},{"s":"−0.3 V","x":1060,"y":245},{"s":"−0.3 V","x":1080,"y":245},{"s":"−0.3 V","x":1100,"y":245},{"s":"−0.3 V","x":1130,"y":245},{"s":"−0.3 V","x":1155,"y":249},{"s":"−0.3 V","x":1163,"y":265},{"s":"−0.3 V","x":1170,"y":285},{"s":"−0.3 V","x":1177,"y":263},{"s":"−0.3 V","x":1190,"y":250},{"s":"−0.3 V","x":1220,"y":246},{"s":"−0.3 V","x":1250,"y":249},{"s":"−0.3 V","x":1280,"y":256},{"s":"−0.3 V","x":1310,"y":272},{"s":"−0.3 V","x":1330,"y":285},{"s":"−0.3 V","x":1350,"y":290},{"s":"−0.3 V","x":1370,"y":285},{"s":"−0.3 V","x":1390,"y":274},{"s":"−0.3 V","x":1405,"y":271},{"s":"−0.3 V","x":1411,"y":283},{"s":"−0.3 V","x":1417,"y":299},{"s":"−0.3 V","x":1424,"y":276},{"s":"−0.3 V","x":1440,"y":258},{"s":"−0.3 V","x":1470,"y":250},{"s":"−0.3 V","x":1500,"y":248},{"s":"−0.3 V","x":1530,"y":253},{"s":"−0.3 V","x":1560,"y":270},{"s":"−0.3 V","x":1580,"y":289},{"s":"−0.3 V","x":1600,"y":300},{"s":"−0.3 V","x":1620,"y":292},{"s":"−0.3 V","x":1645,"y":272},{"s":"−0.3 V","x":1670,"y":257},{"s":"−0.3 V","x":1700,"y":249},{"s":"−0.3 V","x":1740,"y":246},{"s":"−0.3 V","x":1770,"y":245},{"s":"−0.3 V","x":1805,"y":245},
{"s":"−0.4 V","x":995,"y":190},{"s":"−0.4 V","x":1020,"y":190},{"s":"−0.4 V","x":1040,"y":190},{"s":"−0.4 V","x":1050,"y":190},{"s":"−0.4 V","x":1060,"y":190},{"s":"−0.4 V","x":1080,"y":190},{"s":"−0.4 V","x":1100,"y":190},{"s":"−0.4 V","x":1130,"y":190},{"s":"−0.4 V","x":1155,"y":196},{"s":"−0.4 V","x":1163,"y":218},{"s":"−0.4 V","x":1170,"y":245},{"s":"−0.4 V","x":1177,"y":215},{"s":"−0.4 V","x":1190,"y":196},{"s":"−0.4 V","x":1220,"y":191},{"s":"−0.4 V","x":1250,"y":194},{"s":"−0.4 V","x":1280,"y":201},{"s":"−0.4 V","x":1310,"y":217},{"s":"−0.4 V","x":1330,"y":230},{"s":"−0.4 V","x":1350,"y":235},{"s":"−0.4 V","x":1370,"y":230},{"s":"−0.4 V","x":1390,"y":219},{"s":"−0.4 V","x":1405,"y":217},{"s":"−0.4 V","x":1411,"y":233},{"s":"−0.4 V","x":1417,"y":254},{"s":"−0.4 V","x":1424,"y":225},{"s":"−0.4 V","x":1440,"y":204},{"s":"−0.4 V","x":1470,"y":194},{"s":"−0.4 V","x":1500,"y":193},{"s":"−0.4 V","x":1530,"y":198},{"s":"−0.4 V","x":1560,"y":213},{"s":"−0.4 V","x":1580,"y":232},{"s":"−0.4 V","x":1600,"y":242},{"s":"−0.4 V","x":1620,"y":234},{"s":"−0.4 V","x":1645,"y":216},{"s":"−0.4 V","x":1670,"y":201},{"s":"−0.4 V","x":1700,"y":194},{"s":"−0.4 V","x":1740,"y":191},{"s":"−0.4 V","x":1770,"y":190},{"s":"−0.4 V","x":1805,"y":190},
{"s":"−0.5 V","x":995,"y":135},{"s":"−0.5 V","x":1020,"y":135},{"s":"−0.5 V","x":1040,"y":135},{"s":"−0.5 V","x":1050,"y":135},{"s":"−0.5 V","x":1060,"y":135},{"s":"−0.5 V","x":1080,"y":135},{"s":"−0.5 V","x":1100,"y":135},{"s":"−0.5 V","x":1130,"y":135},{"s":"−0.5 V","x":1155,"y":140},{"s":"−0.5 V","x":1163,"y":158},{"s":"−0.5 V","x":1170,"y":180},{"s":"−0.5 V","x":1177,"y":155},{"s":"−0.5 V","x":1190,"y":140},{"s":"−0.5 V","x":1220,"y":136},{"s":"−0.5 V","x":1250,"y":138},{"s":"−0.5 V","x":1280,"y":145},{"s":"−0.5 V","x":1310,"y":159},{"s":"−0.5 V","x":1330,"y":170},{"s":"−0.5 V","x":1350,"y":175},{"s":"−0.5 V","x":1370,"y":170},{"s":"−0.5 V","x":1390,"y":161},{"s":"−0.5 V","x":1405,"y":160},{"s":"−0.5 V","x":1411,"y":173},{"s":"−0.5 V","x":1417,"y":192},{"s":"−0.5 V","x":1424,"y":166},{"s":"−0.5 V","x":1440,"y":147},{"s":"−0.5 V","x":1470,"y":139},{"s":"−0.5 V","x":1500,"y":138},{"s":"−0.5 V","x":1530,"y":142},{"s":"−0.5 V","x":1560,"y":155},{"s":"−0.5 V","x":1580,"y":171},{"s":"−0.5 V","x":1600,"y":180},{"s":"−0.5 V","x":1620,"y":173},{"s":"−0.5 V","x":1645,"y":158},{"s":"−0.5 V","x":1670,"y":145},{"s":"−0.5 V","x":1700,"y":139},{"s":"−0.5 V","x":1740,"y":136},{"s":"−0.5 V","x":1770,"y":135},{"s":"−0.5 V","x":1805,"y":135},
{"s":"−0.6 V","x":995,"y":82},{"s":"−0.6 V","x":1020,"y":82},{"s":"−0.6 V","x":1040,"y":82},{"s":"−0.6 V","x":1050,"y":82},{"s":"−0.6 V","x":1060,"y":82},{"s":"−0.6 V","x":1080,"y":82},{"s":"−0.6 V","x":1100,"y":82},{"s":"−0.6 V","x":1130,"y":82},{"s":"−0.6 V","x":1155,"y":87},{"s":"−0.6 V","x":1163,"y":104},{"s":"−0.6 V","x":1170,"y":127},{"s":"−0.6 V","x":1177,"y":102},{"s":"−0.6 V","x":1190,"y":87},{"s":"−0.6 V","x":1220,"y":83},{"s":"−0.6 V","x":1250,"y":84},{"s":"−0.6 V","x":1280,"y":89},{"s":"−0.6 V","x":1310,"y":99},{"s":"−0.6 V","x":1330,"y":107},{"s":"−0.6 V","x":1350,"y":110},{"s":"−0.6 V","x":1370,"y":107},{"s":"−0.6 V","x":1390,"y":100},{"s":"−0.6 V","x":1405,"y":101},{"s":"−0.6 V","x":1411,"y":120},{"s":"−0.6 V","x":1417,"y":144},{"s":"−0.6 V","x":1424,"y":113},{"s":"−0.6 V","x":1440,"y":91},{"s":"−0.6 V","x":1470,"y":85},{"s":"−0.6 V","x":1500,"y":84},{"s":"−0.6 V","x":1530,"y":88},{"s":"−0.6 V","x":1560,"y":100},{"s":"−0.6 V","x":1580,"y":114},{"s":"−0.6 V","x":1600,"y":122},{"s":"−0.6 V","x":1620,"y":116},{"s":"−0.6 V","x":1645,"y":102},{"s":"−0.6 V","x":1670,"y":91},{"s":"−0.6 V","x":1700,"y":85},{"s":"−0.6 V","x":1740,"y":83},{"s":"−0.6 V","x":1770,"y":82},{"s":"−0.6 V","x":1805,"y":82},
{"s":"−0.7 V","x":995,"y":30},{"s":"−0.7 V","x":1020,"y":30},{"s":"−0.7 V","x":1040,"y":30},{"s":"−0.7 V","x":1050,"y":30},{"s":"−0.7 V","x":1060,"y":30},{"s":"−0.7 V","x":1080,"y":30},{"s":"−0.7 V","x":1100,"y":30},{"s":"−0.7 V","x":1130,"y":30},{"s":"−0.7 V","x":1155,"y":35},{"s":"−0.7 V","x":1163,"y":52},{"s":"−0.7 V","x":1170,"y":75},{"s":"−0.7 V","x":1177,"y":50},{"s":"−0.7 V","x":1190,"y":35},{"s":"−0.7 V","x":1220,"y":31},{"s":"−0.7 V","x":1250,"y":32},{"s":"−0.7 V","x":1280,"y":37},{"s":"−0.7 V","x":1310,"y":47},{"s":"−0.7 V","x":1330,"y":55},{"s":"−0.7 V","x":1350,"y":58},{"s":"−0.7 V","x":1370,"y":55},{"s":"−0.7 V","x":1390,"y":48},{"s":"−0.7 V","x":1405,"y":49},{"s":"−0.7 V","x":1411,"y":63},{"s":"−0.7 V","x":1417,"y":82},{"s":"−0.7 V","x":1424,"y":57},{"s":"−0.7 V","x":1440,"y":40},{"s":"−0.7 V","x":1470,"y":33},{"s":"−0.7 V","x":1500,"y":32},{"s":"−0.7 V","x":1530,"y":35},{"s":"−0.7 V","x":1560,"y":46},{"s":"−0.7 V","x":1580,"y":58},{"s":"−0.7 V","x":1600,"y":65},{"s":"−0.7 V","x":1620,"y":60},{"s":"−0.7 V","x":1645,"y":48},{"s":"−0.7 V","x":1670,"y":38},{"s":"−0.7 V","x":1700,"y":33},{"s":"−0.7 V","x":1740,"y":31},{"s":"−0.7 V","x":1770,"y":30},{"s":"−0.7 V","x":1805,"y":30}
],
"cl": [
{"s":"0.0 V","x":1791,"y":432},{"s":"−0.1 V","x":1791,"y":375},{"s":"−0.2 V","x":1791,"y":318},{"s":"−0.3 V","x":1791,"y":263},{"s":"−0.4 V","x":1791,"y":207},{"s":"−0.5 V","x":1791,"y":152},{"s":"−0.6 V","x":1791,"y":97},{"s":"−0.7 V","x":1791,"y":47}
],
"ct": [
{"x":1068,"y":480,"t":"1050 cm⁻¹"},{"x":1068,"y":447,"t":"ν (NO₃⁻)"},
{"x":1173,"y":552,"t":"1170 cm⁻¹"},{"x":1173,"y":518,"t":"ν (NH₂)"},
{"x":1431,"y":522,"t":"1417 cm⁻¹"},{"x":1431,"y":485,"t":"ν (C–N)"}
],
"cr": [{"x":1053,"y":280,"y2":435},{"x":1170,"y":10,"y2":490},{"x":1417,"y":10,"y2":455}],
"dL": [
{"s":"¹³CO₂+¹⁵NO₃⁻","x":1138,"y":415},{"s":"¹³CO₂+¹⁵NO₃⁻","x":1142,"y":418},{"s":"¹³CO₂+¹⁵NO₃⁻","x":1145,"y":420},{"s":"¹³CO₂+¹⁵NO₃⁻","x":1148,"y":413},{"s":"¹³CO₂+¹⁵NO₃⁻","x":1152,"y":417},{"s":"¹³CO₂+¹⁵NO₃⁻","x":1156,"y":425},{"s":"¹³CO₂+¹⁵NO₃⁻","x":1159,"y":440},{"s":"¹³CO₂+¹⁵NO₃⁻","x":1162,"y":478},{"s":"¹³CO₂+¹⁵NO₃⁻","x":1164,"y":488},{"s":"¹³CO₂+¹⁵NO₃⁻","x":1167,"y":482},{"s":"¹³CO₂+¹⁵NO₃⁻","x":1170,"y":468},{"s":"¹³CO₂+¹⁵NO₃⁻","x":1173,"y":450},{"s":"¹³CO₂+¹⁵NO₃⁻","x":1176,"y":440},{"s":"¹³CO₂+¹⁵NO₃⁻","x":1178,"y":432},{"s":"¹³CO₂+¹⁵NO₃⁻","x":1181,"y":440},{"s":"¹³CO₂+¹⁵NO₃⁻","x":1184,"y":430},{"s":"¹³CO₂+¹⁵NO₃⁻","x":1188,"y":423},{"s":"¹³CO₂+¹⁵NO₃⁻","x":1192,"y":418},{"s":"¹³CO₂+¹⁵NO₃⁻","x":1197,"y":424},{"s":"¹³CO₂+¹⁵NO₃⁻","x":1202,"y":415},{"s":"¹³CO₂+¹⁵NO₃⁻","x":1207,"y":420},{"s":"¹³CO₂+¹⁵NO₃⁻","x":1212,"y":412},{"s":"¹³CO₂+¹⁵NO₃⁻","x":1217,"y":425},{"s":"¹³CO₂+¹⁵NO₃⁻","x":1222,"y":415},{"s":"¹³CO₂+¹⁵NO₃⁻","x":1227,"y":420},{"s":"¹³CO₂+¹⁵NO₃⁻","x":1232,"y":426},{"s":"¹³CO₂+¹⁵NO₃⁻","x":1237,"y":415},{"s":"¹³CO₂+¹⁵NO₃⁻","x":1242,"y":424},{"s":"¹³CO₂+¹⁵NO₃⁻","x":1247,"y":417},{"s":"¹³CO₂+¹⁵NO₃⁻","x":1252,"y":421},{"s":"¹³CO₂+¹⁵NO₃⁻","x":1257,"y":414},{"s":"¹³CO₂+¹⁵NO₃⁻","x":1262,"y":418},
{"s":"¹²CO₂+¹⁵NO₃⁻","x":1138,"y":275},{"s":"¹²CO₂+¹⁵NO₃⁻","x":1142,"y":278},{"s":"¹²CO₂+¹⁵NO₃⁻","x":1145,"y":285},{"s":"¹²CO₂+¹⁵NO₃⁻","x":1148,"y":277},{"s":"¹²CO₂+¹⁵NO₃⁻","x":1152,"y":275},{"s":"¹²CO₂+¹⁵NO₃⁻","x":1156,"y":285},{"s":"¹²CO₂+¹⁵NO₃⁻","x":1159,"y":300},{"s":"¹²CO₂+¹⁵NO₃⁻","x":1161,"y":330},{"s":"¹²CO₂+¹⁵NO₃⁻","x":1163,"y":345},{"s":"¹²CO₂+¹⁵NO₃⁻","x":1166,"y":347},{"s":"¹²CO₂+¹⁵NO₃⁻","x":1169,"y":340},{"s":"¹²CO₂+¹⁵NO₃⁻","x":1172,"y":315},{"s":"¹²CO₂+¹⁵NO₃⁻","x":1175,"y":300},{"s":"¹²CO₂+¹⁵NO₃⁻","x":1180,"y":305},{"s":"¹²CO₂+¹⁵NO₃⁻","x":1184,"y":290},{"s":"¹²CO₂+¹⁵NO₃⁻","x":1190,"y":280},{"s":"¹²CO₂+¹⁵NO₃⁻","x":1195,"y":282},{"s":"¹²CO₂+¹⁵NO₃⁻","x":1198,"y":295},{"s":"¹²CO₂+¹⁵NO₃⁻","x":1202,"y":280},{"s":"¹²CO₂+¹⁵NO₃⁻","x":1210,"y":285},{"s":"¹²CO₂+¹⁵NO₃⁻","x":1215,"y":275},{"s":"¹²CO₂+¹⁵NO₃⁻","x":1220,"y":285},{"s":"¹²CO₂+¹⁵NO₃⁻","x":1225,"y":280},{"s":"¹²CO₂+¹⁵NO₃⁻","x":1230,"y":272},{"s":"¹²CO₂+¹⁵NO₃⁻","x":1235,"y":285},{"s":"¹²CO₂+¹⁵NO₃⁻","x":1240,"y":278},{"s":"¹²CO₂+¹⁵NO₃⁻","x":1245,"y":284},{"s":"¹²CO₂+¹⁵NO₃⁻","x":1250,"y":275},{"s":"¹²CO₂+¹⁵NO₃⁻","x":1254,"y":288},{"s":"¹²CO₂+¹⁵NO₃⁻","x":1258,"y":278},{"s":"¹²CO₂+¹⁵NO₃⁻","x":1262,"y":280},
{"s":"¹³CO₂+¹⁴NO₃⁻","x":1138,"y":145},{"s":"¹³CO₂+¹⁴NO₃⁻","x":1142,"y":148},{"s":"¹³CO₂+¹⁴NO₃⁻","x":1146,"y":146},{"s":"¹³CO₂+¹⁴NO₃⁻","x":1150,"y":148},{"s":"¹³CO₂+¹⁴NO₃⁻","x":1154,"y":150},{"s":"¹³CO₂+¹⁴NO₃⁻","x":1157,"y":148},{"s":"¹³CO₂+¹⁴NO₃⁻","x":1160,"y":160},{"s":"¹³CO₂+¹⁴NO₃⁻","x":1163,"y":180},{"s":"¹³CO₂+¹⁴NO₃⁻","x":1166,"y":200},{"s":"¹³CO₂+¹⁴NO₃⁻","x":1169,"y":220},{"s":"¹³CO₂+¹⁴NO₃⁻","x":1171,"y":222},{"s":"¹³CO₂+¹⁴NO₃⁻","x":1174,"y":212},{"s":"¹³CO₂+¹⁴NO₃⁻","x":1177,"y":200},{"s":"¹³CO₂+¹⁴NO₃⁻","x":1181,"y":185},{"s":"¹³CO₂+¹⁴NO₃⁻","x":1186,"y":175},{"s":"¹³CO₂+¹⁴NO₃⁻","x":1190,"y":168},{"s":"¹³CO₂+¹⁴NO₃⁻","x":1195,"y":162},{"s":"¹³CO₂+¹⁴NO₃⁻","x":1200,"y":160},{"s":"¹³CO₂+¹⁴NO₃⁻","x":1205,"y":155},{"s":"¹³CO₂+¹⁴NO₃⁻","x":1210,"y":152},{"s":"¹³CO₂+¹⁴NO₃⁻","x":1215,"y":148},{"s":"¹³CO₂+¹⁴NO₃⁻","x":1218,"y":140},{"s":"¹³CO₂+¹⁴NO₃⁻","x":1222,"y":150},{"s":"¹³CO₂+¹⁴NO₃⁻","x":1227,"y":145},{"s":"¹³CO₂+¹⁴NO₃⁻","x":1232,"y":152},{"s":"¹³CO₂+¹⁴NO₃⁻","x":1237,"y":148},{"s":"¹³CO₂+¹⁴NO₃⁻","x":1242,"y":150},{"s":"¹³CO₂+¹⁴NO₃⁻","x":1247,"y":145},{"s":"¹³CO₂+¹⁴NO₃⁻","x":1252,"y":152},{"s":"¹³CO₂+¹⁴NO₃⁻","x":1257,"y":148},{"s":"¹³CO₂+¹⁴NO₃⁻","x":1262,"y":165},
{"s":"¹²CO₂+¹⁴NO₃⁻","x":1138,"y":25},{"s":"¹²CO₂+¹⁴NO₃⁻","x":1142,"y":23},{"s":"¹²CO₂+¹⁴NO₃⁻","x":1146,"y":27},{"s":"¹²CO₂+¹⁴NO₃⁻","x":1150,"y":24},{"s":"¹²CO₂+¹⁴NO₃⁻","x":1154,"y":26},{"s":"¹²CO₂+¹⁴NO₃⁻","x":1157,"y":27},{"s":"¹²CO₂+¹⁴NO₃⁻","x":1160,"y":35},{"s":"¹²CO₂+¹⁴NO₃⁻","x":1163,"y":55},{"s":"¹²CO₂+¹⁴NO₃⁻","x":1166,"y":80},{"s":"¹²CO₂+¹⁴NO₃⁻","x":1169,"y":93},{"s":"¹²CO₂+¹⁴NO₃⁻","x":1171,"y":95},{"s":"¹²CO₂+¹⁴NO₃⁻","x":1174,"y":90},{"s":"¹²CO₂+¹⁴NO₃⁻","x":1177,"y":80},{"s":"¹²CO₂+¹⁴NO₃⁻","x":1181,"y":65},{"s":"¹²CO₂+¹⁴NO₃⁻","x":1186,"y":50},{"s":"¹²CO₂+¹⁴NO₃⁻","x":1190,"y":40},{"s":"¹²CO₂+¹⁴NO₃⁻","x":1195,"y":35},{"s":"¹²CO₂+¹⁴NO₃⁻","x":1200,"y":32},{"s":"¹²CO₂+¹⁴NO₃⁻","x":1205,"y":28},{"s":"¹²CO₂+¹⁴NO₃⁻","x":1210,"y":30},{"s":"¹²CO₂+¹⁴NO₃⁻","x":1215,"y":26},{"s":"¹²CO₂+¹⁴NO₃⁻","x":1220,"y":28},{"s":"¹²CO₂+¹⁴NO₃⁻","x":1225,"y":24},{"s":"¹²CO₂+¹⁴NO₃⁻","x":1230,"y":27},{"s":"¹²CO₂+¹⁴NO₃⁻","x":1235,"y":25},{"s":"¹²CO₂+¹⁴NO₃⁻","x":1240,"y":28},{"s":"¹²CO₂+¹⁴NO₃⁻","x":1245,"y":24},{"s":"¹²CO₂+¹⁴NO₃⁻","x":1250,"y":27},{"s":"¹²CO₂+¹⁴NO₃⁻","x":1255,"y":25},{"s":"¹²CO₂+¹⁴NO₃⁻","x":1262,"y":26}
],
"dLl": [
{"s":"¹³CO₂+¹⁵NO₃⁻","x":1222,"y":450},{"s":"¹²CO₂+¹⁵NO₃⁻","x":1222,"y":320},{"s":"¹³CO₂+¹⁴NO₃⁻","x":1222,"y":193},{"s":"¹²CO₂+¹⁴NO₃⁻","x":1222,"y":60}
],
"dLt": [{"x":1170,"y":542,"t":"ν (NH₂)"}],
"dLr": [{"x":1170,"y":0,"y2":512}],
"dLb": [{"x":1162.5,"x2":1169.5,"y":0,"y2":512}],
"dR": [
{"s":"¹³CO₂+¹⁵NO₃⁻","x":1291,"y":430},{"s":"¹³CO₂+¹⁵NO₃⁻","x":1295,"y":435},{"s":"¹³CO₂+¹⁵NO₃⁻","x":1300,"y":440},{"s":"¹³CO₂+¹⁵NO₃⁻","x":1304,"y":452},{"s":"¹³CO₂+¹⁵NO₃⁻","x":1308,"y":445},{"s":"¹³CO₂+¹⁵NO₃⁻","x":1312,"y":462},{"s":"¹³CO₂+¹⁵NO₃⁻","x":1316,"y":470},{"s":"¹³CO₂+¹⁵NO₃⁻","x":1320,"y":478},{"s":"¹³CO₂+¹⁵NO₃⁻","x":1324,"y":490},{"s":"¹³CO₂+¹⁵NO₃⁻","x":1328,"y":500},{"s":"¹³CO₂+¹⁵NO₃⁻","x":1332,"y":505},{"s":"¹³CO₂+¹⁵NO₃⁻","x":1336,"y":510},{"s":"¹³CO₂+¹⁵NO₃⁻","x":1340,"y":515},{"s":"¹³CO₂+¹⁵NO₃⁻","x":1344,"y":510},{"s":"¹³CO₂+¹⁵NO₃⁻","x":1348,"y":522},{"s":"¹³CO₂+¹⁵NO₃⁻","x":1352,"y":520},{"s":"¹³CO₂+¹⁵NO₃⁻","x":1356,"y":512},{"s":"¹³CO₂+¹⁵NO₃⁻","x":1360,"y":515},{"s":"¹³CO₂+¹⁵NO₃⁻","x":1364,"y":505},{"s":"¹³CO₂+¹⁵NO₃⁻","x":1368,"y":498},{"s":"¹³CO₂+¹⁵NO₃⁻","x":1372,"y":500},{"s":"¹³CO₂+¹⁵NO₃⁻","x":1376,"y":488},{"s":"¹³CO₂+¹⁵NO₃⁻","x":1380,"y":480},{"s":"¹³CO₂+¹⁵NO₃⁻","x":1384,"y":475},{"s":"¹³CO₂+¹⁵NO₃⁻","x":1388,"y":468},{"s":"¹³CO₂+¹⁵NO₃⁻","x":1392,"y":462},{"s":"¹³CO₂+¹⁵NO₃⁻","x":1396,"y":455},{"s":"¹³CO₂+¹⁵NO₃⁻","x":1399,"y":462},{"s":"¹³CO₂+¹⁵NO₃⁻","x":1402,"y":478},{"s":"¹³CO₂+¹⁵NO₃⁻","x":1405,"y":500},{"s":"¹³CO₂+¹⁵NO₃⁻","x":1408,"y":512},{"s":"¹³CO₂+¹⁵NO₃⁻","x":1411,"y":515},{"s":"¹³CO₂+¹⁵NO₃⁻","x":1414,"y":512},{"s":"¹³CO₂+¹⁵NO₃⁻","x":1417,"y":490},{"s":"¹³CO₂+¹⁵NO₃⁻","x":1420,"y":475},{"s":"¹³CO₂+¹⁵NO₃⁻","x":1424,"y":470},{"s":"¹³CO₂+¹⁵NO₃⁻","x":1428,"y":462},{"s":"¹³CO₂+¹⁵NO₃⁻","x":1432,"y":458},{"s":"¹³CO₂+¹⁵NO₃⁻","x":1436,"y":450},{"s":"¹³CO₂+¹⁵NO₃⁻","x":1440,"y":440},{"s":"¹³CO₂+¹⁵NO₃⁻","x":1444,"y":436},{"s":"¹³CO₂+¹⁵NO₃⁻","x":1448,"y":425},{"s":"¹³CO₂+¹⁵NO₃⁻","x":1452,"y":432},{"s":"¹³CO₂+¹⁵NO₃⁻","x":1456,"y":428},{"s":"¹³CO₂+¹⁵NO₃⁻","x":1460,"y":430},
{"s":"¹²CO₂+¹⁵NO₃⁻","x":1291,"y":300},{"s":"¹²CO₂+¹⁵NO₃⁻","x":1295,"y":305},{"s":"¹²CO₂+¹⁵NO₃⁻","x":1300,"y":310},{"s":"¹²CO₂+¹⁵NO₃⁻","x":1304,"y":318},{"s":"¹²CO₂+¹⁵NO₃⁻","x":1308,"y":315},{"s":"¹²CO₂+¹⁵NO₃⁻","x":1312,"y":330},{"s":"¹²CO₂+¹⁵NO₃⁻","x":1316,"y":340},{"s":"¹²CO₂+¹⁵NO₃⁻","x":1320,"y":345},{"s":"¹²CO₂+¹⁵NO₃⁻","x":1324,"y":352},{"s":"¹²CO₂+¹⁵NO₃⁻","x":1328,"y":348},{"s":"¹²CO₂+¹⁵NO₃⁻","x":1332,"y":360},{"s":"¹²CO₂+¹⁵NO₃⁻","x":1336,"y":358},{"s":"¹²CO₂+¹⁵NO₃⁻","x":1340,"y":365},{"s":"¹²CO₂+¹⁵NO₃⁻","x":1344,"y":362},{"s":"¹²CO₂+¹⁵NO₃⁻","x":1348,"y":375},{"s":"¹²CO₂+¹⁵NO₃⁻","x":1352,"y":370},{"s":"¹²CO₂+¹⁵NO₃⁻","x":1356,"y":365},{"s":"¹²CO₂+¹⁵NO₃⁻","x":1360,"y":360},{"s":"¹²CO₂+¹⁵NO₃⁻","x":1364,"y":355},{"s":"¹²CO₂+¹⁵NO₃⁻","x":1368,"y":352},{"s":"¹²CO₂+¹⁵NO₃⁻","x":1372,"y":345},{"s":"¹²CO₂+¹⁵NO₃⁻","x":1376,"y":340},{"s":"¹²CO₂+¹⁵NO₃⁻","x":1380,"y":332},{"s":"¹²CO₂+¹⁵NO₃⁻","x":1384,"y":325},{"s":"¹²CO₂+¹⁵NO₃⁻","x":1388,"y":318},{"s":"¹²CO₂+¹⁵NO₃⁻","x":1392,"y":322},{"s":"¹²CO₂+¹⁵NO₃⁻","x":1396,"y":312},{"s":"¹²CO₂+¹⁵NO₃⁻","x":1399,"y":315},{"s":"¹²CO₂+¹⁵NO₃⁻","x":1402,"y":338},{"s":"¹²CO₂+¹⁵NO₃⁻","x":1405,"y":355},{"s":"¹²CO₂+¹⁵NO₃⁻","x":1408,"y":368},{"s":"¹²CO₂+¹⁵NO₃⁻","x":1411,"y":365},{"s":"¹²CO₂+¹⁵NO₃⁻","x":1414,"y":360},{"s":"¹²CO₂+¹⁵NO₃⁻","x":1417,"y":348},{"s":"¹²CO₂+¹⁵NO₃⁻","x":1420,"y":340},{"s":"¹²CO₂+¹⁵NO₃⁻","x":1424,"y":335},{"s":"¹²CO₂+¹⁵NO₃⁻","x":1428,"y":320},{"s":"¹²CO₂+¹⁵NO₃⁻","x":1432,"y":325},{"s":"¹²CO₂+¹⁵NO₃⁻","x":1436,"y":315},{"s":"¹²CO₂+¹⁵NO₃⁻","x":1440,"y":310},{"s":"¹²CO₂+¹⁵NO₃⁻","x":1444,"y":305},{"s":"¹²CO₂+¹⁵NO₃⁻","x":1448,"y":292},{"s":"¹²CO₂+¹⁵NO₃⁻","x":1452,"y":298},{"s":"¹²CO₂+¹⁵NO₃⁻","x":1456,"y":296},{"s":"¹²CO₂+¹⁵NO₃⁻","x":1460,"y":300},
{"s":"¹³CO₂+¹⁴NO₃⁻","x":1291,"y":170},{"s":"¹³CO₂+¹⁴NO₃⁻","x":1295,"y":180},{"s":"¹³CO₂+¹⁴NO₃⁻","x":1300,"y":190},{"s":"¹³CO₂+¹⁴NO₃⁻","x":1304,"y":195},{"s":"¹³CO₂+¹⁴NO₃⁻","x":1308,"y":205},{"s":"¹³CO₂+¹⁴NO₃⁻","x":1312,"y":212},{"s":"¹³CO₂+¹⁴NO₃⁻","x":1316,"y":218},{"s":"¹³CO₂+¹⁴NO₃⁻","x":1320,"y":228},{"s":"¹³CO₂+¹⁴NO₃⁻","x":1324,"y":232},{"s":"¹³CO₂+¹⁴NO₃⁻","x":1328,"y":238},{"s":"¹³CO₂+¹⁴NO₃⁻","x":1332,"y":242},{"s":"¹³CO₂+¹⁴NO₃⁻","x":1336,"y":245},{"s":"¹³CO₂+¹⁴NO₃⁻","x":1340,"y":250},{"s":"¹³CO₂+¹⁴NO₃⁻","x":1344,"y":252},{"s":"¹³CO₂+¹⁴NO₃⁻","x":1348,"y":255},{"s":"¹³CO₂+¹⁴NO₃⁻","x":1352,"y":250},{"s":"¹³CO₂+¹⁴NO₃⁻","x":1356,"y":248},{"s":"¹³CO₂+¹⁴NO₃⁻","x":1360,"y":245},{"s":"¹³CO₂+¹⁴NO₃⁻","x":1364,"y":240},{"s":"¹³CO₂+¹⁴NO₃⁻","x":1368,"y":238},{"s":"¹³CO₂+¹⁴NO₃⁻","x":1372,"y":232},{"s":"¹³CO₂+¹⁴NO₃⁻","x":1376,"y":228},{"s":"¹³CO₂+¹⁴NO₃⁻","x":1380,"y":220},{"s":"¹³CO₂+¹⁴NO₃⁻","x":1384,"y":215},{"s":"¹³CO₂+¹⁴NO₃⁻","x":1388,"y":208},{"s":"¹³CO₂+¹⁴NO₃⁻","x":1392,"y":205},{"s":"¹³CO₂+¹⁴NO₃⁻","x":1396,"y":192},{"s":"¹³CO₂+¹⁴NO₃⁻","x":1399,"y":200},{"s":"¹³CO₂+¹⁴NO₃⁻","x":1402,"y":222},{"s":"¹³CO₂+¹⁴NO₃⁻","x":1405,"y":238},{"s":"¹³CO₂+¹⁴NO₃⁻","x":1408,"y":245},{"s":"¹³CO₂+¹⁴NO₃⁻","x":1411,"y":248},{"s":"¹³CO₂+¹⁴NO₃⁻","x":1414,"y":240},{"s":"¹³CO₂+¹⁴NO₃⁻","x":1417,"y":232},{"s":"¹³CO₂+¹⁴NO₃⁻","x":1420,"y":220},{"s":"¹³CO₂+¹⁴NO₃⁻","x":1424,"y":215},{"s":"¹³CO₂+¹⁴NO₃⁻","x":1428,"y":210},{"s":"¹³CO₂+¹⁴NO₃⁻","x":1432,"y":205},{"s":"¹³CO₂+¹⁴NO₃⁻","x":1436,"y":192},{"s":"¹³CO₂+¹⁴NO₃⁻","x":1440,"y":180},{"s":"¹³CO₂+¹⁴NO₃⁻","x":1444,"y":172},{"s":"¹³CO₂+¹⁴NO₃⁻","x":1448,"y":165},{"s":"¹³CO₂+¹⁴NO₃⁻","x":1452,"y":170},{"s":"¹³CO₂+¹⁴NO₃⁻","x":1456,"y":168},{"s":"¹³CO₂+¹⁴NO₃⁻","x":1460,"y":172},
{"s":"¹²CO₂+¹⁴NO₃⁻","x":1291,"y":40},{"s":"¹²CO₂+¹⁴NO₃⁻","x":1295,"y":42},{"s":"¹²CO₂+¹⁴NO₃⁻","x":1300,"y":45},{"s":"¹²CO₂+¹⁴NO₃⁻","x":1304,"y":48},{"s":"¹²CO₂+¹⁴NO₃⁻","x":1308,"y":52},{"s":"¹²CO₂+¹⁴NO₃⁻","x":1312,"y":55},{"s":"¹²CO₂+¹⁴NO₃⁻","x":1316,"y":60},{"s":"¹²CO₂+¹⁴NO₃⁻","x":1320,"y":63},{"s":"¹²CO₂+¹⁴NO₃⁻","x":1324,"y":68},{"s":"¹²CO₂+¹⁴NO₃⁻","x":1328,"y":70},{"s":"¹²CO₂+¹⁴NO₃⁻","x":1332,"y":75},{"s":"¹²CO₂+¹⁴NO₃⁻","x":1336,"y":78},{"s":"¹²CO₂+¹⁴NO₃⁻","x":1340,"y":82},{"s":"¹²CO₂+¹⁴NO₃⁻","x":1344,"y":85},{"s":"¹²CO₂+¹⁴NO₃⁻","x":1348,"y":90},{"s":"¹²CO₂+¹⁴NO₃⁻","x":1352,"y":92},{"s":"¹²CO₂+¹⁴NO₃⁻","x":1356,"y":88},{"s":"¹²CO₂+¹⁴NO₃⁻","x":1360,"y":85},{"s":"¹²CO₂+¹⁴NO₃⁻","x":1364,"y":84},{"s":"¹²CO₂+¹⁴NO₃⁻","x":1368,"y":82},{"s":"¹²CO₂+¹⁴NO₃⁻","x":1372,"y":78},{"s":"¹²CO₂+¹⁴NO₃⁻","x":1376,"y":75},{"s":"¹²CO₂+¹⁴NO₃⁻","x":1380,"y":70},{"s":"¹²CO₂+¹⁴NO₃⁻","x":1384,"y":66},{"s":"¹²CO₂+¹⁴NO₃⁻","x":1388,"y":62},{"s":"¹²CO₂+¹⁴NO₃⁻","x":1392,"y":58},{"s":"¹²CO₂+¹⁴NO₃⁻","x":1396,"y":55},{"s":"¹²CO₂+¹⁴NO₃⁻","x":1399,"y":56},{"s":"¹²CO₂+¹⁴NO₃⁻","x":1402,"y":60},{"s":"¹²CO₂+¹⁴NO₃⁻","x":1405,"y":65},{"s":"¹²CO₂+¹⁴NO₃⁻","x":1408,"y":78},{"s":"¹²CO₂+¹⁴NO₃⁻","x":1411,"y":90},{"s":"¹²CO₂+¹⁴NO₃⁻","x":1414,"y":100},{"s":"¹²CO₂+¹⁴NO₃⁻","x":1417,"y":108},{"s":"¹²CO₂+¹⁴NO₃⁻","x":1420,"y":110},{"s":"¹²CO₂+¹⁴NO₃⁻","x":1424,"y":98},{"s":"¹²CO₂+¹⁴NO₃⁻","x":1428,"y":80},{"s":"¹²CO₂+¹⁴NO₃⁻","x":1432,"y":62},{"s":"¹²CO₂+¹⁴NO₃⁻","x":1436,"y":48},{"s":"¹²CO₂+¹⁴NO₃⁻","x":1440,"y":40},{"s":"¹²CO₂+¹⁴NO₃⁻","x":1444,"y":35},{"s":"¹²CO₂+¹⁴NO₃⁻","x":1448,"y":30},{"s":"¹²CO₂+¹⁴NO₃⁻","x":1452,"y":35},{"s":"¹²CO₂+¹⁴NO₃⁻","x":1456,"y":32},{"s":"¹²CO₂+¹⁴NO₃⁻","x":1460,"y":34}
],
"dRt": [{"x":1418,"y":558,"t":"ν (C–N)"}],
"dRr": [{"x":1418,"y":0,"y2":530}],
"dRb": [{"x":1409,"x2":1416,"y":0,"y2":530}]
},
"spacing": 11,
"resolve": {"scale": {"color": "independent"}, "legend": {"color": "independent"}},
"vconcat": [
{
 "spacing": 9, "bounds": "flush",
 "resolve": {"scale": {"color": "independent"}, "legend": {"color": "independent"}},
 "hconcat": [
  {
   "width": 199, "height": 198,
   "title": {"text": "a", "dx": -29, "dy": 8.9},
   "encoding": {
     "x": {"field": "x", "type": "quantitative", "scale": {"domain": [955, 2045], "nice": false, "zero": false}, "axis": {"title": "Wavenumber (cm⁻¹)", "values": [1000,1100,1200,1300,1400,1500,1600,1700,1800,1900,2000], "format": "d", "labelExpr": "datum.value % 200 == 0 ? datum.label : ''"}},
     "y": {"field": "y", "type": "quantitative", "scale": {"domain": [0, 594], "nice": false, "zero": false}, "axis": {"title": "Absorbance (arb. units)", "labels": false, "ticks": false, "titlePadding": 8}}
   },
   "layer": [
     {"data": {"name": "aLr"}, "mark": {"type": "rule", "strokeDash": [4, 3], "color": "#6e6e6e", "strokeWidth": 1.1}, "encoding": {"y2": {"field": "y2"}}},
     {"data": {"name": "aL"}, "mark": {"type": "line", "strokeWidth": 1.2}, "encoding": {"color": {"field": "s", "type": "nominal", "legend": null, "scale": {"domain": ["0.0 V","−0.1 V","−0.2 V","−0.3 V","−0.4 V","−0.5 V","−0.6 V","−0.7 V"], "range": ["#b5b5b5","#c3e3f7","#8bcdf3","#56b7ee","#2b9fe5","#1e82c4","#18659c","#154a70"]}}}},
     {"data": {"name": "aLt"}, "mark": {"type": "text", "fontSize": 8.5, "color": "#333"}, "encoding": {"text": {"field": "t"}}},
     {"data": {"name": "aLlead"}, "mark": {"type": "line", "color": "#444", "strokeWidth": 0.8}}
   ]
  },
  {
   "width": 199, "height": 198,
   "encoding": {
     "x": {"field": "x", "type": "quantitative", "scale": {"domain": [2750, 3860], "nice": false, "zero": false}, "axis": {"title": "Wavenumber (cm⁻¹)", "values": [2800,2900,3000,3100,3200,3300,3400,3500,3600,3700,3800], "format": "d", "labelExpr": "datum.value % 200 == 0 ? datum.label : ''"}},
     "y": {"field": "y", "type": "quantitative", "scale": {"domain": [0, 594], "nice": false, "zero": false}, "axis": null}
   },
   "layer": [
     {"data": {"name": "aRr"}, "mark": {"type": "rule", "strokeDash": [4, 3], "color": "#6e6e6e", "strokeWidth": 1.1}, "encoding": {"y2": {"field": "y2"}}},
     {"data": {"name": "aR"}, "mark": {"type": "line", "strokeWidth": 1.2}, "encoding": {"color": {"field": "s", "type": "nominal", "legend": null, "scale": {"domain": ["0.0 V","−0.1 V","−0.2 V","−0.3 V","−0.4 V","−0.5 V","−0.6 V","−0.7 V"], "range": ["#b5b5b5","#c3e3f7","#8bcdf3","#56b7ee","#2b9fe5","#1e82c4","#18659c","#154a70"]}}}},
     {"data": {"name": "aRl"}, "mark": {"type": "text", "fontSize": 10, "align": "right"}, "encoding": {"text": {"field": "s"}, "color": {"field": "s", "type": "nominal", "legend": null}}},
     {"data": {"name": "aRt"}, "mark": {"type": "text", "fontSize": 8.5, "color": "#333"}, "encoding": {"text": {"field": "t"}}}
   ]
  },
  {
   "width": 31.5, "height": 198,
   "view": {"stroke": null},
   "data": {"values": []},
   "mark": "point"
  },
  {
   "width": 198, "height": 198,
   "title": {"text": "b", "dx": -28.5, "dy": 8.9},
   "encoding": {
     "x": {"field": "x", "type": "quantitative", "scale": {"domain": [2550, 3450], "nice": false, "zero": false}, "axis": {"title": "Wavenumber (cm⁻¹)", "values": [2600,2700,2800,2900,3000,3100,3200,3300,3400], "format": "d", "labelExpr": "datum.value % 200 == 0 ? datum.label : ''"}},
     "y": {"field": "y", "type": "quantitative", "scale": {"domain": [0, 594], "nice": false, "zero": false}, "axis": {"title": "Absorbance (arb. units)", "labels": false, "ticks": false, "titlePadding": 7}}
   },
   "layer": [
     {"data": {"name": "br"}, "mark": {"type": "rule", "strokeDash": [4, 3], "color": "#6e6e6e", "strokeWidth": 1.1}, "encoding": {"y2": {"field": "y2"}}},
     {"data": {"name": "b"}, "mark": {"type": "line", "strokeWidth": 1.3, "clip": true}, "encoding": {"color": {"field": "s", "type": "nominal", "scale": {"domain": ["0.00 V","−0.02 V","−0.04 V","−0.06 V","−0.08 V","−0.10 V","−0.15 V"], "range": ["#b8b8b8","#c6e5f8","#8ccff4","#4fb6ee","#2aa0e6","#2185c6","#174c73"]}, "legend": {"orient": "none", "legendX": 99, "legendY": 102, "title": null, "symbolType": "stroke", "symbolSize": 110, "symbolStrokeWidth": 1.6, "labelFontSize": 9.5, "labelColor": "#333", "rowPadding": 0.4, "labelOffset": 6, "padding": 0}}}},
     {"data": {"name": "bt"}, "mark": {"type": "text", "fontSize": 8.5, "color": "#333"}, "encoding": {"text": {"field": "t"}}},
     {"data": {"name": "bname"}, "mark": {"type": "text", "fontSize": 9.5, "color": "#333", "align": "left"}, "encoding": {"text": {"field": "t"}}}
   ]
  }
 ]
},
{
 "spacing": 10, "bounds": "flush",
 "resolve": {"scale": {"color": "independent"}, "legend": {"color": "independent"}},
 "hconcat": [
  {
   "width": 258, "height": 198,
   "title": {"text": "c", "dx": -29, "dy": 8.9},
   "encoding": {
     "x": {"field": "x", "type": "quantitative", "scale": {"domain": [995, 1805], "nice": false, "zero": false}, "axis": {"title": "Raman shift (cm⁻¹)", "values": [1000,1100,1200,1300,1400,1500,1600,1700,1800], "format": "d", "labelExpr": "datum.value % 200 == 0 ? datum.label : ''"}},
     "y": {"field": "y", "type": "quantitative", "scale": {"domain": [0, 593], "nice": false, "zero": false}, "axis": {"title": "Intensity (arb. units)", "labels": false, "ticks": false, "titlePadding": 8}}
   },
   "layer": [
     {"data": {"name": "cr"}, "mark": {"type": "rule", "strokeDash": [4, 3], "color": "#6e6e6e", "strokeWidth": 1.1}, "encoding": {"y2": {"field": "y2"}}},
     {"data": {"name": "c"}, "mark": {"type": "line", "strokeWidth": 1.3}, "encoding": {"color": {"field": "s", "type": "nominal", "legend": null, "scale": {"domain": ["0.0 V","−0.1 V","−0.2 V","−0.3 V","−0.4 V","−0.5 V","−0.6 V","−0.7 V"], "range": ["#b5b5b5","#c3e3f7","#8bcdf3","#56b7ee","#2b9fe5","#1e82c4","#18659c","#154a70"]}}}},
     {"data": {"name": "cl"}, "mark": {"type": "text", "fontSize": 10, "align": "right"}, "encoding": {"text": {"field": "s"}, "color": {"field": "s", "type": "nominal", "legend": null}}},
     {"data": {"name": "ct"}, "mark": {"type": "text", "fontSize": 8.5, "color": "#333"}, "encoding": {"text": {"field": "t"}}}
   ]
  },
  {
   "width": 29, "height": 198,
   "view": {"stroke": null},
   "data": {"values": []},
   "mark": "point"
  },
  {
   "width": 169, "height": 198,
   "title": {"text": "d", "dx": -23, "dy": 8.9},
   "encoding": {
     "x": {"field": "x", "type": "quantitative", "scale": {"domain": [1136, 1264], "nice": false, "zero": false}, "axis": {"title": "Raman shift (cm⁻¹)", "values": [1150,1175,1200,1225,1250], "format": "d", "labelExpr": "datum.value % 50 == 0 ? datum.label : ''"}},
     "y": {"field": "y", "type": "quantitative", "scale": {"domain": [0, 592], "nice": false, "zero": false}, "axis": {"title": "Intensity (arb. units)", "labels": false, "ticks": false, "titlePadding": 10}}
   },
   "layer": [
     {"data": {"name": "dLb"}, "mark": {"type": "rect", "color": "#dbe8f3"}, "encoding": {"x2": {"field": "x2"}, "y2": {"field": "y2"}}},
     {"data": {"name": "dLr"}, "mark": {"type": "rule", "strokeDash": [4, 3], "color": "#6e6e6e", "strokeWidth": 1.1}, "encoding": {"y2": {"field": "y2"}}},
     {"data": {"name": "dL"}, "mark": {"type": "line", "strokeWidth": 1.2}, "encoding": {"color": {"field": "s", "type": "nominal", "legend": null, "scale": {"domain": ["¹³CO₂+¹⁵NO₃⁻","¹²CO₂+¹⁵NO₃⁻","¹³CO₂+¹⁴NO₃⁻","¹²CO₂+¹⁴NO₃⁻"], "range": ["#1b72b1","#6dab2a","#b56ef3","#b8b8b8"]}}}},
     {"data": {"name": "dLl"}, "mark": {"type": "text", "fontSize": 9.5}, "encoding": {"text": {"field": "s"}, "color": {"field": "s", "type": "nominal", "legend": null}}},
     {"data": {"name": "dLt"}, "mark": {"type": "text", "fontSize": 8.5, "color": "#333"}, "encoding": {"text": {"field": "t"}}}
   ]
  },
  {
   "width": 169, "height": 198,
   "encoding": {
     "x": {"field": "x", "type": "quantitative", "scale": {"domain": [1291, 1460], "nice": false, "zero": false}, "axis": {"title": "Raman shift (cm⁻¹)", "values": [1300,1325,1350,1375,1400,1425,1450], "format": "d", "labelExpr": "datum.value % 50 == 0 ? datum.label : ''"}},
     "y": {"field": "y", "type": "quantitative", "scale": {"domain": [0, 592], "nice": false, "zero": false}, "axis": null}
   },
   "layer": [
     {"data": {"name": "dRb"}, "mark": {"type": "rect", "color": "#dbe8f3"}, "encoding": {"x2": {"field": "x2"}, "y2": {"field": "y2"}}},
     {"data": {"name": "dRr"}, "mark": {"type": "rule", "strokeDash": [4, 3], "color": "#6e6e6e", "strokeWidth": 1.1}, "encoding": {"y2": {"field": "y2"}}},
     {"data": {"name": "dR"}, "mark": {"type": "line", "strokeWidth": 1.2}, "encoding": {"color": {"field": "s", "type": "nominal", "legend": null, "scale": {"domain": ["¹³CO₂+¹⁵NO₃⁻","¹²CO₂+¹⁵NO₃⁻","¹³CO₂+¹⁴NO₃⁻","¹²CO₂+¹⁴NO₃⁻"], "range": ["#1b72b1","#6dab2a","#b56ef3","#b8b8b8"]}}}},
     {"data": {"name": "dRt"}, "mark": {"type": "text", "fontSize": 8.5, "color": "#333"}, "encoding": {"text": {"field": "t"}}}
   ]
  }
 ]
}
]
}
